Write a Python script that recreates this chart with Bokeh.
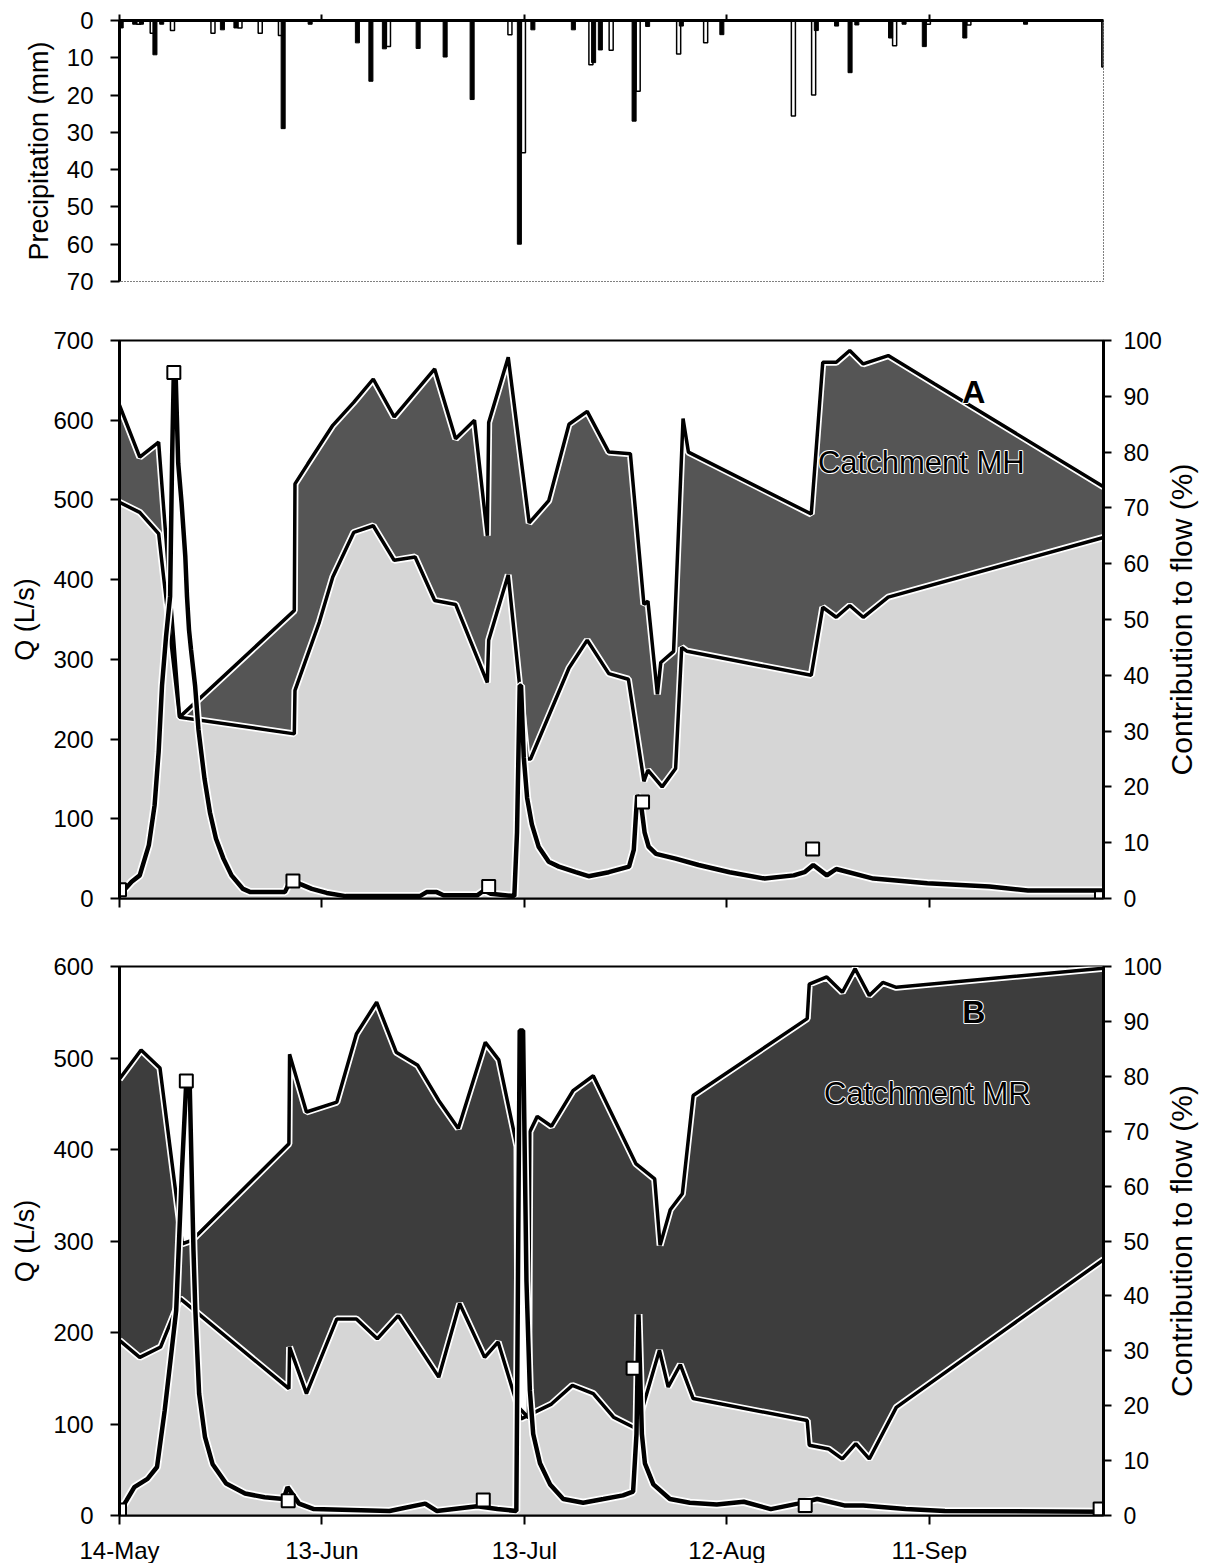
import math
from bokeh.plotting import figure
from bokeh.layouts import column, row
from bokeh.models import Range1d, LinearAxis, FixedTicker, ColumnDataSource
from bokeh.transform import dodge
from bokeh.core.properties import value
from bokeh.embed import file_html
from bokeh.resources import INLINE

# ---------------------------------------------------------------
# Time axis: days since 14 May
# ---------------------------------------------------------------
tick_days = [0, 30, 60, 90, 120]
tick_labels = ["14-May", "13-Jun", "13-Jul", "12-Aug", "11-Sep"]
x_end = 145.8

# ---------------------------------------------------------------
# Daily precipitation (mm) at the two gauges
# ---------------------------------------------------------------
gauge1_day = [0, 2, 3, 5, 6, 15, 17, 24, 28, 35, 37, 39, 44, 48, 52, 59, 61, 67,
              70, 71, 76, 78, 83, 89, 103, 106, 108, 109, 114, 116, 119, 125, 134]
gauge1_mm = [2.0, 1.0, 1.0, 9.2, 1.0, 2.5, 2.0, 29.0, 1.0, 6.0, 16.3, 7.6, 7.5, 9.8,
             21.2, 60.0, 2.5, 2.5, 11.3, 7.9, 27.0, 1.6, 1.5, 3.8, 2.7, 1.5, 14.0,
             1.2, 4.7, 1.0, 7.0, 4.7, 1.0]
gauge2_day = [2, 4, 7, 13, 17, 20, 23, 39, 57, 59, 69, 72, 76, 82, 86, 99, 102,
              114, 119, 125, 145]
gauge2_mm = [1.0, 3.4, 2.7, 3.4, 2.0, 3.4, 4.0, 7.0, 3.8, 35.5, 11.9, 8.0, 19.0,
             9.0, 6.0, 25.6, 20.0, 6.8, 1.0, 1.2, 12.5]

# ---------------------------------------------------------------
# Catchment MH: discharge (L/s), samples, contribution bands (%)
# ---------------------------------------------------------------
mh_q_day = [0, 1.8, 3.0, 4.35, 5.2, 5.8, 6.3, 6.9, 7.5, 7.8, 8.05, 8.3, 8.5, 8.7,
            9.2, 9.75, 10.0, 10.3, 10.6, 11.2, 11.7, 12.6, 13.4, 14.3, 15.4, 16.6,
            18.3, 19.4, 24.5, 25.2, 25.7, 26.8, 28.5, 30.7, 33.5, 44.5, 45.5, 47,
            48, 53, 54, 55, 58.5, 58.9, 59.3, 59.5, 59.9, 60.4, 61.1, 62.1, 63.6,
            65.1, 67.6, 69.5, 72.5, 75.5, 76.2, 76.7, 77.2, 77.8, 78.4, 79.5, 82.4,
            85.8, 90.4, 95.6, 99.9, 101.5, 102.8, 104.8, 106.2, 111.7, 119.7,
            128.9, 134.6, 145.8]
mh_q = [4, 21, 29, 67, 117, 184, 267, 329, 379, 554, 662, 662, 604, 546, 496, 429,
        379, 337, 312, 267, 212, 150, 108, 75, 50, 29, 12, 8, 8, 20, 22, 18, 12, 7,
        3, 3, 8, 8, 4, 4, 10, 6, 3, 83, 267, 267, 177, 126, 93, 65, 46, 40, 33, 28,
        33, 40, 61, 129, 123, 83, 65, 56, 50, 42, 33, 25, 29, 33, 42, 29, 37, 25,
        19, 15, 10, 10]
mh_sample_day = [0, 8.05, 25.7, 54.7, 77.5, 102.7, 145.5]
mh_sample_q = [11, 660, 22, 15, 121, 62, 1]

mh_upper_day = [0, 3.0, 5.8, 8.9, 25.9, 26.0, 27.9, 31.6, 34.7, 37.6, 40.7, 46.7,
                49.8, 52.6, 54.5, 54.7, 57.6, 60.7, 63.6, 66.6, 69.3, 72.5, 75.7,
                77.7, 78.3, 79.7, 80.2, 82.1, 83.5, 84.3, 102.5, 104.2, 106.2,
                108.2, 110.2, 113.9, 120.8, 145.8]
mh_upper_pct = [88.4, 79.1, 81.8, 32.5, 51.6, 74.3, 77.9, 84.8, 88.9, 93.1, 86.3,
                94.9, 82.4, 85.7, 65.0, 85.3, 97.0, 67.3, 71.3, 85.0, 87.3, 80.0,
                79.7, 52.7, 53.3, 36.6, 42.3, 44.3, 86.0, 80.0, 68.9, 96.1, 96.1,
                98.2, 95.8, 97.3, 92.2, 73.8]
mh_lower_day = [0, 3.0, 5.8, 8.9, 25.9, 26.0, 29.6, 31.6, 34.7, 37.6, 40.7, 43.8,
                46.7, 49.8, 54.5, 54.7, 57.6, 60.4, 60.9, 66.6, 69.3, 72.5, 75.4,
                77.7, 78.3, 80.4, 82.4, 83.3, 84.1, 102.5, 104.2, 106.2, 108.2,
                110.2, 113.9, 145.8]
mh_lower_pct = [71.0, 69.2, 65.4, 32.5, 29.5, 37.3, 49.5, 57.6, 65.6, 66.8, 60.6,
                61.2, 53.4, 52.7, 38.7, 46.3, 58.0, 25.0, 25.0, 41.3, 46.3, 40.3,
                39.3, 21.0, 23.0, 20.0, 23.3, 45.0, 44.3, 40.0, 52.2, 50.4, 52.5,
                50.4, 54.0, 64.7]

# ---------------------------------------------------------------
# Catchment MR
# ---------------------------------------------------------------
mr_q_day = [0, 1.0, 2.2, 4.15, 5.56, 6.7, 7.55, 8.4, 9.25, 9.9, 10.4, 10.96, 11.24,
            11.8, 12.66, 13.8, 15.8, 18.6, 21.5, 24.3, 24.9, 26.6, 28.8, 40, 45.3,
            47, 53, 56, 58.8, 59.3, 59.8, 60.3, 60.8, 61.3, 62.3, 63.8, 65.75,
            68.7, 71.7, 74.6, 76.1, 76.6, 76.9, 77.4, 77.85, 79.1, 81.55, 84.5,
            88.5, 92.5, 96.5, 100.5, 103.4, 107.4, 110.2, 116.5, 122.3, 145.8]
mr_q = [4, 16, 31, 40, 53, 115, 169, 224, 377, 475, 472, 290, 224, 133, 86, 56, 35,
        24, 20, 18, 31, 13, 7, 5, 13, 5, 10, 7, 5, 530, 530, 256, 137, 89, 57, 34,
        18, 14, 18, 22, 26, 89, 220, 89, 57, 34, 18, 14, 12, 15, 7, 13, 18, 11, 11,
        7, 5, 4]
mr_sample_day = [0, 9.9, 25.0, 53.9, 76.1, 101.6, 145.3]
mr_sample_q = [6, 475, 16, 17, 161, 11, 7]

mr_upper_day = [0, 3.2, 6.0, 9.3, 10.7, 25.1, 25.2, 27.7, 32.2, 35.1, 38.1, 41.0,
                44.2, 47.3, 50.2, 54.2, 56.2, 58.9, 59.05, 60.6, 60.8, 61.9, 64.0,
                67.2, 70.2, 76.5, 79.3, 80.1, 81.6, 83.4, 85.0, 101.9, 102.2, 104.8,
                107.1, 109.0, 111.1, 113.1, 115.1, 145.8]
mr_upper_pct = [79.5, 84.8, 81.5, 49.5, 50.1, 67.7, 84.0, 73.5, 75.3, 87.7, 93.5,
                84.4, 82.0, 75.6, 70.5, 86.2, 83.0, 67.2, 19.8, 17.8, 69.9, 72.7,
                70.9, 77.4, 80.1, 64.1, 61.3, 49.2, 55.7, 58.6, 76.5, 90.5, 96.8,
                98.1, 95.3, 99.6, 94.7, 97.1, 96.2, 99.7]
mr_lower_day = [0, 3.0, 6.1, 9.0, 25.1, 25.2, 27.7, 32.2, 35.1, 38.2, 41.3, 47.3,
                50.4, 54.1, 56.1, 58.9, 59.5, 64.0, 67.1, 70.2, 73.2, 76.6, 80.0,
                81.3, 83.1, 85.0, 101.9, 102.2, 105.1, 107.1, 109.1, 111.1, 115.1,
                131.4, 145.8]
mr_lower_pct = [31.9, 28.8, 30.7, 39.5, 23.1, 30.7, 22.2, 35.8, 35.8, 32.2, 36.4,
                25.2, 38.6, 28.8, 31.6, 20.3, 17.6, 20.3, 23.7, 22.2, 17.9, 15.8,
                30.1, 23.4, 27.5, 21.3, 17.3, 12.8, 12.1, 10.3, 13.1, 10.3, 19.7,
                34.0, 46.6]

# ---------------------------------------------------------------
# Layout / styling
# ---------------------------------------------------------------
FONT = "Liberation Sans"
FRAME_W = 984
LEFT_B = 119
RIGHT_B = 60          # right-axis ticks and numbers
TITLE_W = 43          # strip holding the right-hand title
TICK_FS = "24px"

x_range = Range1d(0, x_end)


def base_figure(frame_h, top_b, bottom_b, y_range, right_b, x_loc="below"):
    p = figure(frame_width=FRAME_W, frame_height=frame_h,
               min_border_left=LEFT_B, min_border_right=right_b,
               min_border_top=top_b, min_border_bottom=bottom_b,
               x_range=x_range, y_range=y_range, x_axis_location=x_loc,
               toolbar_location=None, output_backend="svg",
               background_fill_color="white", border_fill_color="white")
    p.xgrid.visible = False
    p.ygrid.visible = False
    return p


def style_axis(ax, line_w=3, tick_out=9, standoff=17, labels=True, size=TICK_FS):
    ax.axis_line_width = line_w
    ax.axis_line_color = "black"
    ax.major_tick_line_width = 2
    ax.major_tick_line_color = "black"
    ax.major_tick_out = tick_out
    ax.major_tick_in = 0
    ax.minor_tick_line_color = None
    ax.major_label_text_font = FONT
    ax.major_label_text_color = "black"
    ax.major_label_standoff = standoff
    if labels:
        ax.major_label_text_font_size = size
    else:
        ax.major_label_text_font_size = "0px"
        ax.major_label_text_alpha = 0
    ax.axis_label_text_font = FONT
    ax.axis_label_text_font_style = "normal"
    ax.axis_label_text_color = "black"


def time_axis(ax, labels):
    ax.ticker = FixedTicker(ticks=tick_days)
    ax.major_label_overrides = {d: lab for d, lab in zip(tick_days, tick_labels)}
    style_axis(ax, line_w=2, tick_out=9, standoff=12, labels=labels)


def halo_text(p, x, y, txt, size, style):
    # white halo underneath, black lettering on top
    common = dict(y_range_name="pct", text_font=value(FONT), text_font_size=size,
                  text_font_style=style, text_align="center", text_baseline="middle")
    p.text(x=[x], y=[y], text=[txt], text_color="white", text_outline_color="white",
           **common)
    p.text(x=[x], y=[y], text=[txt], text_color="black", **common)


def title_strip(frame_h, top_b, bottom_b, txt):
    # narrow strip to the right of a panel carrying its vertical title
    s = figure(frame_width=TITLE_W, frame_height=frame_h,
               min_border_left=0, min_border_right=0,
               min_border_top=top_b, min_border_bottom=bottom_b,
               x_range=Range1d(0, 1), y_range=Range1d(0, 1),
               x_axis_type=None, y_axis_type=None,
               toolbar_location=None, output_backend="svg",
               background_fill_color="white", border_fill_color="white")
    s.outline_line_color = None
    s.xgrid.visible = False
    s.ygrid.visible = False
    s.text(x=[0.4], y=[0.5], text=[txt], angle=math.pi / 2,
           text_font=value(FONT), text_font_size="30px", text_color="black",
           text_align="center", text_baseline="middle")
    return s


# ---------------- precipitation ----------------
p1 = base_figure(261, 20, 30, Range1d(70, 0), RIGHT_B + TITLE_W, x_loc="above")
time_axis(p1.xaxis[0], labels=False)
p1.xaxis[0].axis_line_width = 3
p1.xaxis[0].major_tick_out = 6
ya = p1.yaxis[0]
ya.ticker = FixedTicker(ticks=list(range(0, 71, 10)))
style_axis(ya)
ya.axis_label = "Precipitation (mm)"
ya.axis_label_text_font_size = "27px"
ya.axis_label_standoff = 10
p1.outline_line_color = "black"
p1.outline_line_width = 1
p1.outline_line_dash = "1 2"

src_g2 = ColumnDataSource(dict(day=gauge2_day, mm=gauge2_mm))
src_g1 = ColumnDataSource(dict(day=gauge1_day, mm=gauge1_mm))
p1.vbar(x=dodge("day", 0.85, range=p1.x_range), top="mm", bottom=0, width=0.6,
        source=src_g2, fill_color="white", line_color="black", line_width=1.5)
p1.vbar(x=dodge("day", 0.25, range=p1.x_range), top="mm", bottom=0, width=0.6,
        source=src_g1, fill_color="black", line_color="black", line_width=1)


def flow_panel(frame_h, top_b, bottom_b, q_max, q_step, labels,
               q_day, q, s_day, s_q, up_day, up_pct, lo_day, lo_pct,
               light, dark, name, letter, name_pos, letter_pos):
    p = base_figure(frame_h, top_b, bottom_b, Range1d(0, q_max), RIGHT_B)
    p.extra_y_ranges = {"pct": Range1d(0, 100)}
    time_axis(p.xaxis[0], labels=labels)
    ly = p.yaxis[0]
    ly.ticker = FixedTicker(ticks=list(range(0, q_max + 1, q_step)))
    style_axis(ly)
    ly.axis_label = "Q (L/s)"
    ly.axis_label_text_font_size = "27px"
    ly.axis_label_standoff = 10

    ry = LinearAxis(y_range_name="pct", ticker=FixedTicker(ticks=list(range(0, 101, 10))))
    style_axis(ry, tick_out=8, standoff=12, size="23px")
    p.add_layout(ry, "right")

    p.outline_line_color = "black"
    p.outline_line_width = 2

    # baseline (light) and event (dark) contribution bands
    p.patch(x=list(lo_day) + [lo_day[-1], lo_day[0]], y=list(lo_pct) + [0, 0],
            y_range_name="pct", fill_color=light, line_color=None)
    p.patch(x=list(up_day) + list(lo_day)[::-1], y=list(up_pct) + list(lo_pct)[::-1],
            y_range_name="pct", fill_color=dark, line_color=None)
    for xs, ys in ((lo_day, lo_pct), (up_day, up_pct)):
        p.line(xs, ys, y_range_name="pct", line_color="white", line_width=7)
    for xs, ys in ((lo_day, lo_pct), (up_day, up_pct)):
        p.line(xs, ys, y_range_name="pct", line_color="black", line_width=3.5)

    # hydrograph and sampling times
    p.line(q_day, q, line_color="white", line_width=8)
    p.line(q_day, q, line_color="black", line_width=4.5)
    p.scatter(s_day, s_q, marker="square", size=13, fill_color="white",
              line_color="black", line_width=2)

    halo_text(p, name_pos[0], name_pos[1], name, "31px", "normal")
    halo_text(p, letter_pos[0], letter_pos[1], letter, "32px", "bold")
    strip = title_strip(frame_h, top_b, bottom_b, "Contribution to flow (%)")
    return row(p, strip, spacing=0)


p2 = flow_panel(558, 29, 30, 700, 100, False,
                mh_q_day, mh_q, mh_sample_day, mh_sample_q,
                mh_upper_day, mh_upper_pct, mh_lower_day, mh_lower_pct,
                "#d6d6d6", "#555555", "Catchment MH", "A", (118.8, 78.2), (126.6, 90.7))

p3 = flow_panel(549, 38, 48, 600, 100, True,
                mr_q_day, mr_q, mr_sample_day, mr_sample_q,
                mr_upper_day, mr_upper_pct, mr_lower_day, mr_lower_pct,
                "#d6d6d6", "#3d3d3d", "Catchment MR", "B", (119.7, 76.8), (126.6, 91.7))

layout = column(p1, p2, p3, spacing=0)
open("out.html", "w").write(file_html(layout, INLINE))
